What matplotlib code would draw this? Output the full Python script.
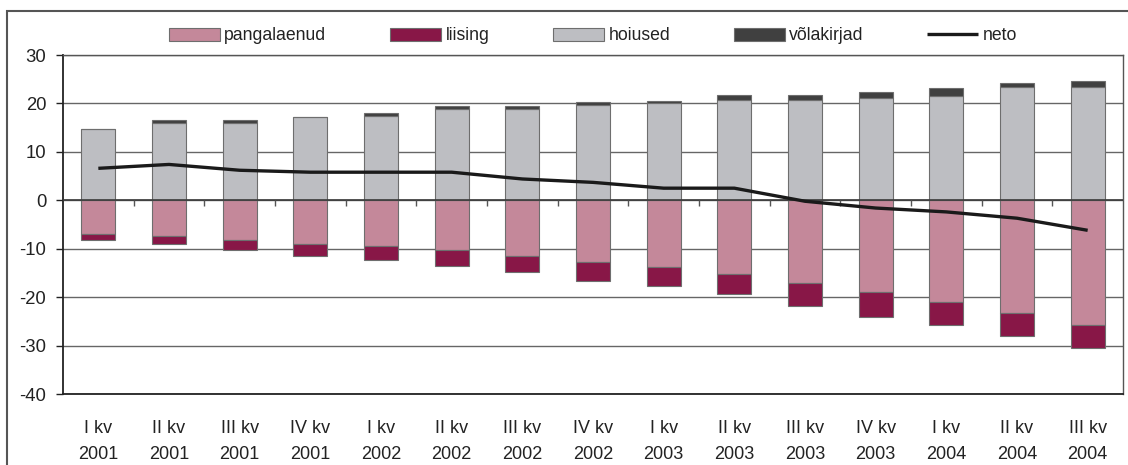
import matplotlib
matplotlib.use("Agg")
import matplotlib.pyplot as plt
from matplotlib.patches import Rectangle
from matplotlib.lines import Line2D
import numpy as np

categories = ["I kv\n2001", "II kv\n2001", "III kv\n2001", "IV kv\n2001",
              "I kv\n2002", "II kv\n2002", "III kv\n2002", "IV kv\n2002",
              "I kv\n2003", "II kv\n2003", "III kv\n2003", "IV kv\n2003",
              "I kv\n2004", "II kv\n2004", "III kv\n2004"]
pangalaenud = [-6.9, -7.4, -8.2, -9.1, -9.5, -10.3, -11.5, -12.8, -13.7, -15.3, -17.0, -19.0, -21.1, -23.2, -25.7]
liising = [-1.3, -1.7, -2.1, -2.4, -2.9, -3.3, -3.3, -3.8, -4.1, -4.1, -4.9, -5.0, -4.6, -4.9, -4.9]
hoiused = [14.8, 15.9, 15.9, 17.3, 17.5, 18.8, 18.8, 19.6, 20.0, 20.8, 20.8, 21.2, 21.6, 23.3, 23.3]
volakirjad = [0.0, 0.6, 0.6, 0.0, 0.6, 0.6, 0.6, 0.6, 0.6, 1.0, 1.0, 1.1, 1.5, 1.0, 1.4]
neto = [6.6, 7.4, 6.2, 5.8, 5.8, 5.8, 4.4, 3.7, 2.5, 2.5, -0.2, -1.6, -2.4, -3.7, -6.2]
yticks = [-40, -30, -20, -10, 0, 10, 20, 30]

plt.rcParams['font.family'] = ['Liberation Sans', 'DejaVu Sans']
plt.rcParams['font.size'] = 12.7

C_PANK = '#c4889a'
C_LIIS = '#881747'
C_HOI = '#bdbec2'
C_VOL = '#404040'
EDGE = '#6e6e6e'
TXT = '#222222'

fig = plt.figure(figsize=(11.28, 4.65), dpi=100)
W, H = 1128, 465
ax = fig.add_axes([63 / W, 1 - 394 / H, (1123 - 63) / W, (394 - 55) / H])

x = np.arange(len(categories))
bw = 0.48
ax.bar(x, pangalaenud, bw, color=C_PANK, edgecolor=EDGE, linewidth=0.8, zorder=2, label='pangalaenud')
ax.bar(x, liising, bw, bottom=pangalaenud, color=C_LIIS, edgecolor=EDGE, linewidth=0.8, zorder=2, label='liising')
ax.bar(x, hoiused, bw, color=C_HOI, edgecolor=EDGE, linewidth=0.8, zorder=2, label='hoiused')
ax.bar(x, volakirjad, bw, bottom=hoiused, color=C_VOL, edgecolor=EDGE, linewidth=0.8, zorder=2, label='võlakirjad')
ax.plot(x, neto, color='#1a1a1a', linewidth=2.4, solid_capstyle='butt', solid_joinstyle='round', zorder=4, label='neto')

ax.set_xlim(-0.5, len(categories) - 0.5)
ax.set_ylim(-40, 30)
ax.set_yticks(yticks)
ax.set_yticklabels([str(v) for v in yticks], fontsize=13.3)
ax.yaxis.grid(True, color='#666666', linewidth=1.0, zorder=0)
ax.set_axisbelow(True)

# zero line with category boundary ticks
ax.axhline(0, color='#3a3a3a', linewidth=1.2, zorder=3)
bounds = np.arange(len(categories) + 1) - 0.5
ax.vlines(bounds[1:-1], -1.1, 0, color='#555555', linewidth=1.0, zorder=3)

ax.set_xticks(x)
ax.set_xticklabels(categories, fontsize=13)
for t in ax.get_xticklabels():
    t.set_linespacing(1.7)
ax.tick_params(axis='x', length=0, pad=19, colors=TXT)
ax.tick_params(axis='y', length=5, width=1, pad=7, colors=TXT, direction='out')

for s in ['left', 'bottom']:
    ax.spines[s].set_color('#222222')
    ax.spines[s].set_linewidth(1.3)
for s in ['top', 'right']:
    ax.spines[s].set_color('#555555')
    ax.spines[s].set_linewidth(1.0)

handles = [Rectangle((0, 0), 1, 1, facecolor=C_PANK, edgecolor=EDGE, linewidth=0.8),
           Rectangle((0, 0), 1, 1, facecolor=C_LIIS, edgecolor=EDGE, linewidth=0.8),
           Rectangle((0, 0), 1, 1, facecolor=C_HOI, edgecolor=EDGE, linewidth=0.8),
           Rectangle((0, 0), 1, 1, facecolor=C_VOL, edgecolor=EDGE, linewidth=0.8),
           Line2D([0], [0], color='#1a1a1a', linewidth=2.4, solid_capstyle='butt')]
labels = ['pangalaenud', 'liising', 'hoiused', 'võlakirjad', 'neto']
leg = fig.legend(handles, labels, loc='center', bbox_to_anchor=(593 / W, 1 - 36 / H), ncol=5,
                 frameon=False, handlelength=2.9, handleheight=0.72, handletextpad=0.25,
                 columnspacing=3.6, borderpad=0, fontsize=12.7)
for t in leg.get_texts():
    t.set_color(TXT)

frame = Rectangle((7 / W, -0.05), 1.1, 1 - 11 / H + 0.05, transform=fig.transFigure,
                  fill=False, edgecolor='#555555', linewidth=1.5, clip_on=False)
fig.add_artist(frame)

fig.savefig('out.png', dpi=100)
